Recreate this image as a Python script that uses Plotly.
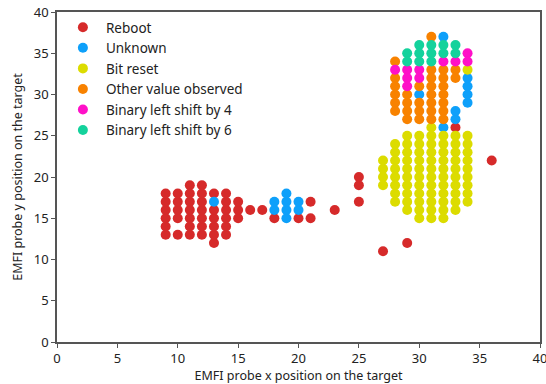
import plotly.graph_objects as go

# Data: (x, y) grid positions per outcome category
reboot_x = [9]*6 + [10]*5 + [11]*7 + [12]*7 + [13]*6 + [14]*6 + [15]*3 + [16, 17, 18, 20, 21, 21, 23, 25, 25, 25, 27, 29, 33, 36]
reboot_y = [13, 14, 15, 16, 17, 18,
            13, 15, 16, 17, 18,
            13, 14, 15, 16, 17, 18, 19,
            13, 14, 15, 16, 17, 18, 19,
            12, 13, 14, 15, 16, 18,
            13, 14, 15, 16, 17, 18,
            15, 16, 17,
            16, 16, 15, 15, 15, 17, 16, 17, 19, 20, 11, 12, 26, 22]

unknown_x = [13, 18, 18, 19, 19, 19, 19, 20, 20, 30, 32, 32, 33, 33, 34, 34, 34, 34]
unknown_y = [17, 16, 17, 15, 16, 17, 18, 16, 17, 30, 37, 26, 27, 28, 29, 30, 31, 32]

bitreset_x = [27]*4 + [28]*8 + [29]*10 + [30]*11 + [31]*12 + [32]*11 + [33]*10 + [34]*10
bitreset_y = (list(range(19, 23)) + list(range(17, 25)) + list(range(16, 26)) +
              list(range(15, 26)) + list(range(15, 27)) + list(range(15, 26)) +
              list(range(16, 26)) + list(range(17, 26)) + [33])

other_x = [28]*6 + [29]*4 + [30]*4 + [31]*8 + [32]*7 + [33]*2
other_y = [34, 32, 31, 30, 29, 28,
           30, 29, 28, 27,
           31, 29, 28, 27,
           37, 33, 32, 31, 30, 29, 28, 27,
           33, 32, 31, 30, 29, 28, 27,
           33, 32]

shift4_x = [28, 29, 29, 29, 30, 30, 32, 33, 34, 34]
shift4_y = [33, 33, 32, 31, 33, 32, 34, 34, 35, 34]

shift6_x = [29, 29, 30, 30, 30, 31, 31, 31, 32, 32, 33, 33]
shift6_y = [35, 34, 36, 35, 34, 36, 35, 34, 36, 35, 36, 35]

series = [
    ("Reboot", reboot_x, reboot_y, "#d62a2a"),
    ("Unknown", unknown_x, unknown_y, "#0ea0fa"),
    ("Bit reset", bitreset_x, bitreset_y, "#dcdc00"),
    ("Other value observed", other_x, other_y, "#f88200"),
    ("Binary left shift by 4", shift4_x, shift4_y, "#ff10c8"),
    ("Binary left shift by 6", shift6_x, shift6_y, "#14d29c"),
]

FONT = "Noto Sans"
fig = go.Figure()
for name, xs, ys, col in series:
    fig.add_trace(go.Scatter(x=xs, y=ys, mode="markers", name=name, cliponaxis=False,
                             marker=dict(color=col, size=10, line=dict(width=0))))

axis_common = dict(range=[0, 40], dtick=5, showgrid=False, zeroline=False,
                   showline=True, mirror=True, linecolor="#555555", linewidth=1.5,
                   ticks="outside", ticklen=4, tickcolor="#555555", tickwidth=1,
                   automargin=False, ticklabeloverflow="allow",
                   tickfont=dict(family=FONT, size=13, color="#222222"))

fig.update_layout(
    width=546, height=384,
    margin=dict(l=57, r=6, t=12, b=42),
    plot_bgcolor="white", paper_bgcolor="white",
    font=dict(family=FONT, size=13, color="#222222"),
    xaxis=dict(title=dict(text="EMFI probe x position on the target", standoff=6,
                          font=dict(family=FONT, size=12.5)), **axis_common),
    yaxis=dict(title=dict(text="EMFI probe y position on the target", standoff=8,
                          font=dict(family=FONT, size=12.5)), **axis_common),
    legend=dict(x=0.006, y=1.0, xanchor="left", yanchor="top",
                bgcolor="rgba(0,0,0,0)", font=dict(family=FONT, size=13.5),
                itemwidth=36, tracegroupgap=0),
)

fig.write_html("out.html", config={"displayModeBar": False},
               post_script="document.body.style.margin='0px';document.body.style.overflow='hidden';")
